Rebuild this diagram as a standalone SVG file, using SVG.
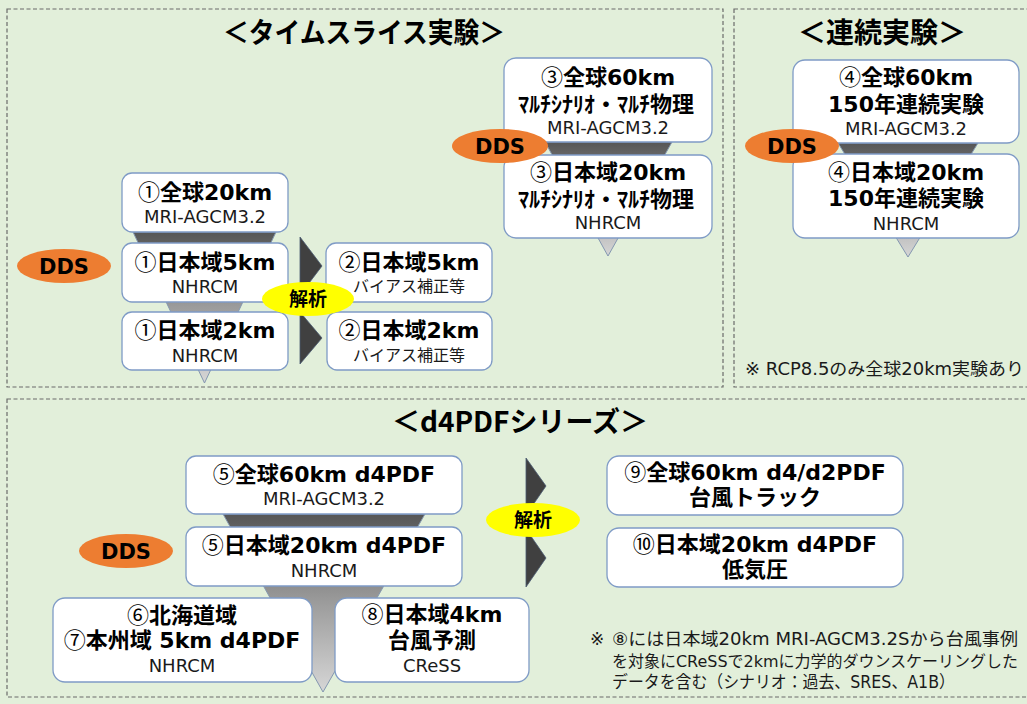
<svg xmlns="http://www.w3.org/2000/svg" width="1027" height="704" viewBox="0 0 1027 704">
<defs>
<style>
.bg{fill:#e2efda}
.panel{fill:none;stroke:#6a6a6a;stroke-width:1.2;stroke-dasharray:4 2.5}
.node{fill:#fff;stroke:#7f9bc6;stroke-width:1.3}
.t{font-family:"DejaVu Sans","Noto Sans CJK JP",sans-serif;font-weight:bold;font-size:22px;text-anchor:middle;fill:#000}
.s{font-family:"DejaVu Sans","Noto Sans CJK JP",sans-serif;font-size:18px;text-anchor:middle;fill:#1a1a1a}
.sj{font-family:"Noto Sans CJK JP",sans-serif;font-size:16px;text-anchor:middle;fill:#1a1a1a}
.c{font-family:"Noto Sans CJK JP",sans-serif;font-weight:normal}
.title{font-family:"Noto Sans CJK JP",sans-serif;font-weight:bold;font-size:28px;text-anchor:middle;fill:#000}
.dds{fill:#ed7d31}
.ddst{font-family:"DejaVu Sans",sans-serif;font-weight:bold;font-size:21px;text-anchor:middle;fill:#000}
.kai{fill:#ffff00}
.kait{font-family:"Noto Sans CJK JP",sans-serif;font-weight:bold;font-size:19px;text-anchor:middle;fill:#000}
.arrow{fill:#404040;stroke:#4a5a72;stroke-width:0.8}
.funnel{fill:url(#fg);stroke:#8497b0;stroke-width:1}
.note{font-family:"DejaVu Sans","Noto Sans CJK JP",sans-serif;font-size:17px;fill:#1a1a1a}
</style>
<linearGradient id="fg" x1="0" y1="0" x2="0" y2="1">
<stop offset="0" stop-color="#565656"/>
<stop offset="0.5" stop-color="#9c9c9c"/>
<stop offset="1" stop-color="#d6d6d6"/>
</linearGradient>
</defs>
<rect class="bg" x="0" y="0" width="1027" height="704"/>
<g id="panels">
<rect class="panel" x="7" y="9" width="716" height="378"/>
<rect class="panel" x="734" y="9" width="300" height="378"/>
<rect class="panel" x="7" y="399" width="1030" height="298"/>
</g>
<g id="titles">
<text class="title" x="364" y="43" textLength="282" lengthAdjust="spacingAndGlyphs">＜タイムスライス実験＞</text>
<text class="title" x="882" y="43">＜連続実験＞</text>
<text class="title" x="520" y="432">＜d4PDFシリーズ＞</text>
</g>
<g id="connectors">
<polygon class="funnel" points="133,232 276,232 204.5,383"/>
<polygon class="funnel" points="545,142 672,142 608,256"/>
<polygon class="funnel" points="838,143 978,143 908,257"/>
<polygon class="funnel" points="223,514 425,514 323,692"/>
<polygon class="arrow" points="300,237 322,266 300,295"/>
<polygon class="arrow" points="300,312 322,338 300,364"/>
<polygon class="arrow" points="526,458 546,486 526,515"/>
<polygon class="arrow" points="526,529 546,558 526,587"/>
</g>
<g id="n1a"><rect class="node" x="122" y="173" width="166" height="59" rx="10"/><text class="t" x="205" y="200"><tspan class="c">①</tspan>全球20km</text><text class="s" x="205" y="223">MRI-AGCM3.2</text></g>
<g id="n1b"><rect class="node" x="122" y="243" width="166" height="59" rx="10"/><text class="t" x="205" y="270"><tspan class="c">①</tspan>日本域5km</text><text class="s" x="205" y="293">NHRCM</text></g>
<g id="n1c"><rect class="node" x="122" y="312" width="166" height="58" rx="10"/><text class="t" x="205" y="338"><tspan class="c">①</tspan>日本域2km</text><text class="s" x="205" y="362">NHRCM</text></g>
<g id="n2a"><rect class="node" x="326" y="243" width="166" height="59" rx="10"/><text class="t" x="409" y="270"><tspan class="c">②</tspan>日本域5km</text><text class="sj" x="409" y="292">バイアス補正等</text></g>
<g id="n2b"><rect class="node" x="327" y="312" width="165" height="58" rx="10"/><text class="t" x="409" y="338"><tspan class="c">②</tspan>日本域2km</text><text class="sj" x="409" y="361">バイアス補正等</text></g>
<g id="n3a"><rect class="node" x="504" y="58" width="208" height="84" rx="12"/><text class="t" x="608" y="85"><tspan class="c">③</tspan>全球60km</text><text class="t" x="606" y="112">ﾏﾙﾁｼﾅﾘｵ・ﾏﾙﾁ物理</text><text class="s" x="608" y="134">MRI-AGCM3.2</text></g>
<g id="n3b"><rect class="node" x="504" y="155" width="208" height="83" rx="12"/><text class="t" x="608" y="180"><tspan class="c">③</tspan>日本域20km</text><text class="t" x="606" y="207">ﾏﾙﾁｼﾅﾘｵ・ﾏﾙﾁ物理</text><text class="s" x="608" y="229">NHRCM</text></g>
<g id="n4a"><rect class="node" x="793" y="60" width="226" height="83" rx="12"/><text class="t" x="906" y="85"><tspan class="c">④</tspan>全球60km</text><text class="t" x="906" y="112">150年連続実験</text><text class="s" x="906" y="135">MRI-AGCM3.2</text></g>
<g id="n4b"><rect class="node" x="793" y="154" width="226" height="84" rx="12"/><text class="t" x="906" y="180"><tspan class="c">④</tspan>日本域20km</text><text class="t" x="906" y="206">150年連続実験</text><text class="s" x="906" y="230">NHRCM</text></g>
<g id="n5a"><rect class="node" x="186" y="456" width="276" height="58" rx="10"/><text class="t" x="324" y="482"><tspan class="c">⑤</tspan>全球60km d4PDF</text><text class="s" x="324" y="505">MRI-AGCM3.2</text></g>
<g id="n5b"><rect class="node" x="186" y="527" width="276" height="59" rx="10"/><text class="t" x="324" y="553"><tspan class="c">⑤</tspan>日本域20km d4PDF</text><text class="s" x="324" y="577">NHRCM</text></g>
<g id="n67"><rect class="node" x="53" y="598" width="259" height="84" rx="12"/><text class="t" x="182" y="623"><tspan class="c">⑥</tspan>北海道域</text><text class="t" x="182" y="648"><tspan class="c">⑦</tspan>本州域 5km d4PDF</text><text class="s" x="182" y="672">NHRCM</text></g>
<g id="n8"><rect class="node" x="335" y="598" width="194" height="84" rx="12"/><text class="t" x="432" y="622"><tspan class="c">⑧</tspan>日本域4km</text><text class="t" x="432" y="648">台風予測</text><text class="s" x="432" y="672">CReSS</text></g>
<g id="n9"><rect class="node" x="607" y="456" width="296" height="59" rx="12"/><text class="t" x="755" y="480"><tspan class="c">⑨</tspan>全球60km d4/d2PDF</text><text class="t" x="755" y="505">台風トラック</text></g>
<g id="n10"><rect class="node" x="607" y="528" width="296" height="59" rx="12"/><text class="t" x="755" y="552"><tspan class="c">⑩</tspan>日本域20km d4PDF</text><text class="t" x="755" y="577">低気圧</text></g>
<g id="dds1"><ellipse class="dds" cx="64" cy="266" rx="47" ry="17"/><text class="ddst" x="64" y="274">DDS</text></g>
<g id="dds2"><ellipse class="dds" cx="500" cy="146" rx="48" ry="17"/><text class="ddst" x="500" y="154">DDS</text></g>
<g id="dds3"><ellipse class="dds" cx="792" cy="146" rx="47" ry="17"/><text class="ddst" x="792" y="154">DDS</text></g>
<g id="dds4"><ellipse class="dds" cx="126" cy="551" rx="47" ry="17"/><text class="ddst" x="126" y="559">DDS</text></g>
<g id="kaiseki1"><ellipse class="kai" cx="308" cy="299" rx="46" ry="17"/><text class="kait" x="308" y="306">解析</text></g>
<g id="kaiseki2"><ellipse class="kai" cx="533" cy="520" rx="47" ry="17"/><text class="kait" x="533" y="527">解析</text></g>
<g id="notes">
<text class="note" x="745" y="375" textLength="279" lengthAdjust="spacingAndGlyphs">※ RCP8.5のみ全球20km実験あり</text>
<text class="note" x="590" y="645">※</text>
<text class="note" x="612" y="645" textLength="406" lengthAdjust="spacingAndGlyphs">⑧には日本域20km MRI-AGCM3.2Sから台風事例</text>
<text class="note" x="612" y="667" style="font-size:16px" textLength="406" lengthAdjust="spacingAndGlyphs">を対象にCReSSで2kmに力学的ダウンスケーリングした</text>
<text class="note" x="612" y="688" textLength="343" lengthAdjust="spacingAndGlyphs">データを含む（シナリオ：過去、SRES、A1B）</text>
</g>
</svg>
